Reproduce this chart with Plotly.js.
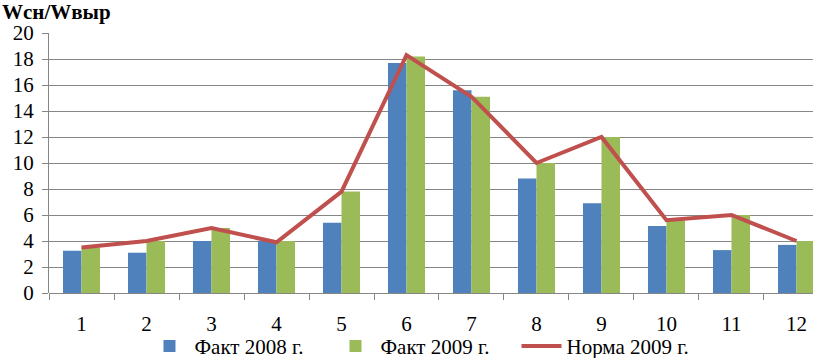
<!DOCTYPE html>
<html><head><meta charset="utf-8">
<script src="https://cdn.plot.ly/plotly-3.0.1.min.js"></script>
<style>html,body{margin:0;padding:0;overflow:hidden;background:#fff}</style>
</head><body><div id="chart" style="width:813px;height:380px"></div>
<script>
const months = ['1','2','3','4','5','6','7','8','9','10','11','12'];
const fact2008 = [3.25, 3.1, 4.0, 4.0, 5.4, 17.7, 15.6, 8.8, 6.9, 5.15, 3.3, 3.7];
const fact2009 = [3.5, 4.0, 5.0, 4.0, 7.8, 18.2, 15.1, 10.0, 12.0, 5.7, 6.0, 4.0];
const norma2009 = [3.5, 4.0, 5.0, 3.9, 7.8, 18.3, 15.1, 10.0, 12.0, 5.6, 6.0, 4.0];
const names = ['Факт 2008 г.', 'Факт 2009 г.', 'Норма 2009 г.'];
const yTitle = 'Wсн/Wвыр';

const fam = 'Liberation Serif, Times New Roman, serif';
const font = {family: fam, size: 21, color: '#000'};
const data = [
  {type: 'bar', x: months, y: fact2008, name: names[0], marker: {color: '#4F81BD'}},
  {type: 'bar', x: months, y: fact2009, name: names[1], marker: {color: '#9BBB59'}},
  {type: 'scatter', mode: 'lines', x: months, y: norma2009, name: names[2], line: {color: '#C0504D', width: 4}}
];
const layout = {
  width: 813, height: 380,
  margin: {l: 49, r: 0, t: 33, b: 87, autoexpand: false},
  paper_bgcolor: '#fff', plot_bgcolor: '#fff',
  font: font,
  barmode: 'group', bargap: 0.43, bargroupgap: 0,
  xaxis: {
    type: 'category', range: [-0.5, 11.254], automargin: false,
    showgrid: false, showline: false, zeroline: false,
    ticks: 'outside', tickson: 'boundaries', ticklen: 6, tickcolor: '#868686',
    ticklabelstandoff: 16, tickfont: font
  },
  yaxis: {
    range: [0, 20], dtick: 2, showgrid: true, gridcolor: '#868686', gridwidth: 1, automargin: false,
    showline: true, linecolor: '#868686', zeroline: true, zerolinecolor: '#868686',
    ticks: 'outside', ticklen: 6, tickcolor: '#868686', tickfont: font, ticklabelstandoff: 4
  },
  showlegend: true,
  legend: {orientation: 'h', x: 0.125, xanchor: 'left', y: -0.126, yanchor: 'top', font: font, traceorder: 'normal', itemwidth: 40, entrywidth: 131, bgcolor: 'rgba(0,0,0,0)'},
  annotations: [{text: '<b>' + yTitle + '</b>', xref: 'paper', yref: 'paper', x: -0.064, y: 1.028, xanchor: 'left', yanchor: 'bottom', showarrow: false, font: {family: fam, size: 21, color: '#000'}}]
};
Plotly.newPlot('chart', data, layout, {displayModeBar: false, staticPlot: true});
</script></body></html>
